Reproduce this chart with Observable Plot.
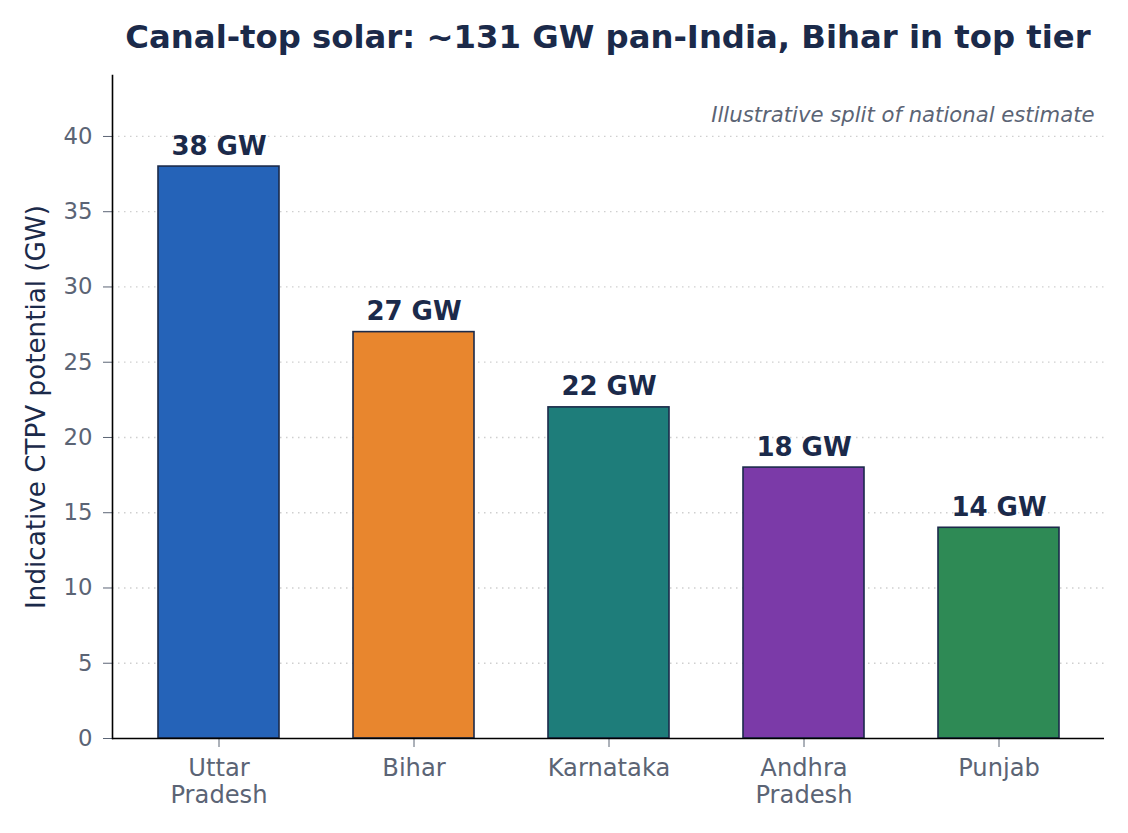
<!DOCTYPE html>
<html>
<head>
<meta charset="utf-8">
<script src="https://cdn.jsdelivr.net/npm/d3@7"></script>
<script src="https://cdn.jsdelivr.net/npm/@observablehq/plot@0.6"></script>
<style>
  html, body { margin: 0; padding: 0; background: #fff; }
  #title { box-sizing: border-box; width: 1128px; height: 60px; padding: 19px 24px 0 112px; text-align: center;
    font-family: "DejaVu Sans", sans-serif; font-weight: bold; font-size: 32.3px; color: #1b2a4a; line-height: 36px; white-space: nowrap; }
  svg { display: block; }
</style>
</head>
<body>
<div id="title">Canal-top solar: ~131 GW pan-India, Bihar in top tier</div>
<div id="chart"></div>
<script>
const states = ["Uttar\nPradesh", "Bihar", "Karnataka", "Andhra\nPradesh", "Punjab"];
const potentialGW = [38, 27, 22, 18, 14];
const colors = ["#2563b8", "#e8862e", "#1e7d7a", "#7b3aa8", "#2e8a55"];
const yTicks = [0, 5, 10, 15, 20, 25, 30, 35, 40];
const note = "Illustrative split of national estimate";
const yLabel = "Indicative CTPV potential (GW)";

const data = states.map((s, i) => ({state: s, value: potentialGW[i], color: colors[i], label: `${potentialGW[i]} GW`}));

const ink = "#1b2a4a";
const tickGray = "#5b6475";

const chart = Plot.plot({
  width: 1128,
  height: 773,
  marginTop: 15,
  marginLeft: 112,
  marginRight: 24,
  marginBottom: 95,
  style: {fontFamily: "DejaVu Sans, sans-serif", background: "#fff"},
  x: {domain: states, paddingInner: 0.38, paddingOuter: 0.233, label: null},
  y: {domain: [0, 44.05], label: null},
  marks: [
    Plot.ruleY(yTicks.slice(1), {stroke: "#cfcfcf", strokeWidth: 1.3, strokeDasharray: "1.5,4.5"}),
    Plot.barY(data, {x: "state", y: "value", fill: "color", stroke: ink, strokeWidth: 1.6, insetLeft: 0, insetRight: 0}),
    Plot.text(data, {x: "state", y: "value", text: "label", dy: -12, lineAnchor: "bottom", fontWeight: "bold", fontSize: 26, fill: ink}),
    Plot.axisY({ticks: yTicks, tickSize: 9, tickPadding: 11, fontSize: 22.8, color: tickGray, stroke: tickGray, label: null}),
    Plot.axisX({tickSize: 9, tickPadding: 9, fontSize: 24.2, color: tickGray, stroke: tickGray, label: null, lineHeight: 1.12}),
    Plot.ruleY([0], {stroke: "black", strokeWidth: 1.6}),
    Plot.frame({anchor: "left", stroke: "black", strokeWidth: 1.6}),
    Plot.text([note], {frameAnchor: "top-right", dx: -10, dy: 31, lineAnchor: "top", fontStyle: "italic", fontSize: 21.2, fill: tickGray}),
    Plot.text([yLabel], {frameAnchor: "left", rotate: -90, dx: -76, fontSize: 26.2, fill: ink, textAnchor: "middle"})
  ]
});
document.getElementById("chart").append(chart);
</script>
</body>
</html>
